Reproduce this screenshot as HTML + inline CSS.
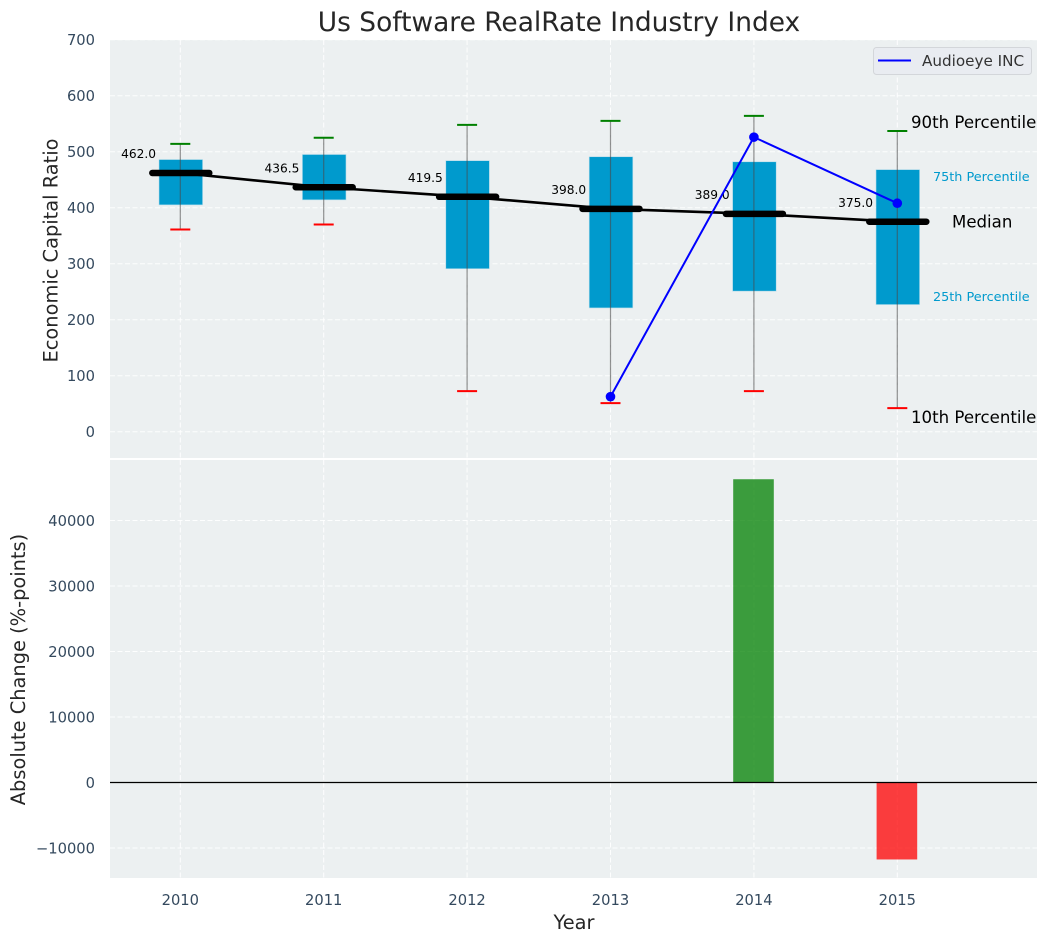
<!DOCTYPE html>
<html>
<head>
<meta charset="utf-8">
<title>Us Software RealRate Industry Index</title>
<style>
html,body{margin:0;padding:0;background:#fff;width:1048px;height:942px;overflow:hidden}
svg{display:block;font-family:"DejaVu Sans","Liberation Sans",sans-serif}
</style>
</head>
<body>
<svg id="chart" width="1048" height="942" viewBox="0 0 1048 942" xmlns="http://www.w3.org/2000/svg">
  <rect x="110" y="40" width="927" height="418" fill="#ecf0f1"/>
  <rect x="110" y="460" width="927" height="418" fill="#ecf0f1"/>
  <g id="layer"></g>
  <text x="559" y="31" font-size="26.45" fill="#262626" text-anchor="middle">Us Software RealRate Industry Index</text>
  <text transform="translate(57.5,250.5) rotate(-90)" font-size="19.4" fill="#262626" text-anchor="middle">Economic Capital Ratio</text>
  <text transform="translate(25,669.5) rotate(-90)" font-size="19.4" fill="#262626" text-anchor="middle">Absolute Change (%-points)</text>
  <text x="574" y="929" font-size="19.4" fill="#262626" text-anchor="middle">Year</text>
  <text x="911" y="128" font-size="16.6" fill="#000">90th Percentile</text>
  <text x="933" y="181" font-size="12.8" fill="#009acd">75th Percentile</text>
  <text x="952" y="227.5" font-size="16.6" fill="#000">Median</text>
  <text x="933" y="301" font-size="12.8" fill="#009acd">25th Percentile</text>
  <text x="911" y="423" font-size="16.6" fill="#000">10th Percentile</text>
  <g>
    <rect x="873.5" y="47.5" width="158" height="27" rx="3" fill="#e9ecf1" stroke="#d3d6da" stroke-width="1"/>
    <line x1="878" y1="60.5" x2="911" y2="60.5" stroke="#0000ff" stroke-width="2"/>
    <text x="922" y="66" font-size="15.2" fill="#333">Audioeye INC</text>
  </g>
</svg>
<script>
var years = [2010, 2011, 2012, 2013, 2014, 2015];
var p90 = [514, 525, 548, 555, 564, 537];
var p75 = [486, 495, 484, 491, 482, 468];
var medians = [462.0, 436.5, 419.5, 398.0, 389.0, 375.0];
var p25 = [405, 414, 291, 221, 251, 227];
var p10 = [361, 370, 72.5, 51, 72.5, 42];
var companyYears = [2013, 2014, 2015];
var companyValues = [62.5, 526, 408];
var changeYears = [2014, 2015];
var changeValues = [46300, -11750];
var topTicks = [0, 100, 200, 300, 400, 500, 600, 700];
var bottomTicks = [-10000, 0, 10000, 20000, 30000, 40000];

function xScale(v) { return 180.3 + (v - 2010) * 143.4; }
function yTop(v) { return 431.7 - v * 0.56; }
function yBottom(v) { return 782.5 - v * 0.00655; }

var layer = document.getElementById('layer');
function make(tag, attrs, text) {
  var el = document.createElementNS('http://www.w3.org/2000/svg', tag);
  for (var k in attrs) el.setAttribute(k, attrs[k]);
  if (text !== undefined) el.textContent = text;
  layer.appendChild(el);
  return el;
}
var GRID = {stroke: '#ffffff', 'stroke-width': 1, 'stroke-dasharray': '5 2.5', 'stroke-opacity': 0.9};
function withGrid(a) { for (var k in GRID) a[k] = GRID[k]; return a; }
var el;

topTicks.forEach(function (t) {
  var y = yTop(t);
  el = make('line', withGrid({x1: 110, x2: 1037, y1: y, y2: y}));
  
  
  el = make('text', {x: 95, y: y + 5.3, 'font-size': 14.7, fill: '#34495e', 'text-anchor': 'end'}, String(t));
  
  
});
bottomTicks.forEach(function (t) {
  var y = yBottom(t);
  el = make('line', withGrid({x1: 110, x2: 1037, y1: y, y2: y}));
  
  
  el = make('text', {x: 95, y: y + 5.3, 'font-size': 14.7, fill: '#34495e', 'text-anchor': 'end'}, String(t).replace('-', '\u2212'));
  
  
});
years.forEach(function (yr) {
  var x = xScale(yr);
  el = make('line', withGrid({x1: x, x2: x, y1: 40, y2: 458}));
  
  
  el = make('line', withGrid({x1: x, x2: x, y1: 460, y2: 878}));
  
  
  el = make('text', {x: x, y: 905, 'font-size': 14.7, fill: '#34495e', 'text-anchor': 'middle'}, String(yr));
  
  
});

years.forEach(function (yr, i) {
  var x = xScale(yr);
  el = make('rect', {x: x - 21.3, y: yTop(p75[i]), width: 43.6, height: yTop(p25[i]) - yTop(p75[i]), fill: '#009acd', stroke: '#b5dcea', 'stroke-width': 0.6});
  
  
  el = make('line', {x1: x, x2: x, y1: yTop(p90[i]), y2: yTop(p10[i]), stroke: '#4a4a4a', 'stroke-width': 1.2, 'stroke-opacity': 0.6});
  
  
  el = make('line', {x1: x - 10, x2: x + 10, y1: yTop(p90[i]), y2: yTop(p90[i]), stroke: '#008000', 'stroke-width': 2});
  
  
  el = make('line', {x1: x - 10, x2: x + 10, y1: yTop(p10[i]), y2: yTop(p10[i]), stroke: '#ff0000', 'stroke-width': 2});
  
  
});

el = make('polyline', {points: years.map(function (yr, i) { return xScale(yr) + ',' + yTop(medians[i]); }).join(' '), fill: 'none', stroke: '#000', 'stroke-width': 2.6});



years.forEach(function (yr, i) {
  var x = xScale(yr), y = yTop(medians[i]);
  el = make('line', {x1: x - 28, x2: x + 29, y1: y, y2: y, stroke: '#000', 'stroke-width': 6.5, 'stroke-linecap': 'round'});
  
  
  el = make('text', {x: x - 24.3, y: y - 14.8, 'font-size': 12.2, fill: '#000', 'text-anchor': 'end'}, medians[i].toFixed(1));
  
  
});

el = make('polyline', {points: companyYears.map(function (yr, i) { return xScale(yr) + ',' + yTop(companyValues[i]); }).join(' '), fill: 'none', stroke: '#0000ff', 'stroke-width': 2});


companyYears.forEach(function (yr, i) {
  el = make('circle', {cx: xScale(yr), cy: yTop(companyValues[i]), r: 4.8, fill: '#0000ff'});
  
  
});

changeYears.forEach(function (yr, i) {
  var x = xScale(yr), v = changeValues[i], y0 = yBottom(0), y1 = yBottom(v);
  el = make('rect', {x: x - 20.7, y: Math.min(y0, y1), width: 40.6, height: Math.abs(y1 - y0), fill: v >= 0 ? '#008000' : '#ff0000', 'fill-opacity': 0.75});
  
  
});

el = make('line', {x1: 110, x2: 1037, y1: yBottom(0), y2: yBottom(0), stroke: '#000', 'stroke-width': 1.2});


</script>
</body>
</html>
